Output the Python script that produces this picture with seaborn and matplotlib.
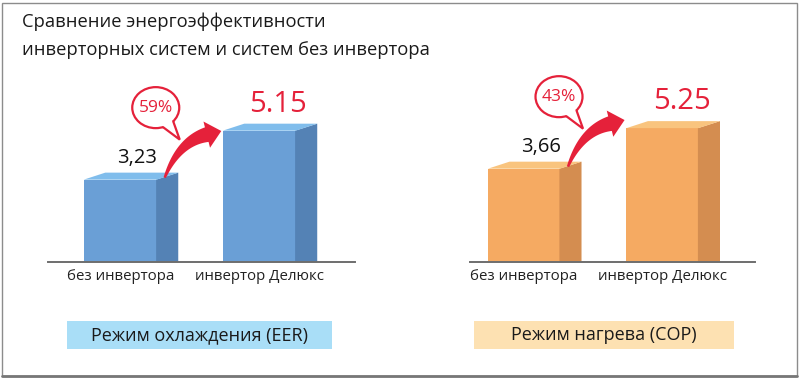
import numpy as np
import pandas as pd
import matplotlib
matplotlib.use("Agg")
import matplotlib.pyplot as plt
import seaborn as sns
from matplotlib.patches import Polygon, Ellipse, Rectangle
from matplotlib.lines import Line2D
from matplotlib.transforms import IdentityTransform

# ---------------- data ----------------
categories = ["без инвертора", "инвертор Делюкс"]
cooling_values = [3.23, 5.15]
heating_values = [3.66, 5.25]
cooling_labels = ["3,23", "5.15"]
heating_labels = ["3,66", "5.25"]
gains = ["59%", "43%"]
mode_titles = ["Режим охлаждения (EER)", "Режим нагрева (COP)"]
title_lines = ["Сравнение энергоэффективности",
               "инверторных систем и систем без инвертора"]

# ---------------- style ----------------
sns.set_theme(style="white")
plt.rcParams['font.family'] = ['Open Sans', 'DejaVu Sans']

W, H = 800, 380
RED = "#e5213a"
fig = plt.figure(figsize=(W / 100, H / 100), dpi=100)
fig.patch.set_facecolor("white")
ID = IdentityTransform()

panels = [
    dict(values=cooling_values, labels=cooling_labels, gain=gains[0], title=mode_titles[0],
         x0=48, x1=355, xlim=(-0.52, 1.689), width=0.525,
         front="#6a9fd6", side="#5482b5", top="#80bdec",
         box=(67, 332), boxcolor="#a9def7"),
    dict(values=heating_values, labels=heating_labels, gain=gains[1], title=mode_titles[1],
         x0=470, x1=755, xlim=(-0.39, 1.668), width=0.52,
         front="#f5aa62", side="#d48d50", top="#f9c47e",
         box=(474, 734), boxcolor="#fde1b2"),
]

base_y = 262      # image pixel of baseline
top_y = 58
YMAX = 8.0


def curved_arrow(A):
    ax_, ay_ = A

    def P(dx, dy):
        return np.array([ax_ + dx, ay_ - dy], dtype=float)

    S, C, E = P(8, -2), P(22, -38), P(50, -45)
    t = np.linspace(0, 1, 50)[:, None]
    B = (1 - t) ** 2 * S + 2 * (1 - t) * t * C + t ** 2 * E
    D = 2 * (1 - t) * (C - S) + 2 * t * (E - C)
    D /= np.linalg.norm(D, axis=1)[:, None]
    N = np.column_stack([-D[:, 1], D[:, 0]])
    w = 1.2 + 6.3 * t
    left = B + N * w
    right = B - N * w
    d_end, n_end = D[-1], N[-1]
    T = E + d_end * 15
    head = np.array([E + n_end * 13.5, T, E - n_end * 13.5])
    pts = np.vstack([left, head, right[::-1]])
    fig.add_artist(Polygon(pts, closed=True, transform=ID, fc=RED, ec="none", zorder=5))


def bubble(A, text):
    ax_, ay_ = A
    cx, cy = ax_ - 1, ay_ + 72
    rx, ry = 23.5, 20.5
    e = Ellipse((cx, cy), 2 * rx, 2 * ry, transform=ID, fc="white", ec=RED, lw=1.6, zorder=6)
    fig.add_artist(e)
    a1, a2 = np.deg2rad(-72), np.deg2rad(-42)
    b1 = np.array([cx + rx * np.cos(a1), cy + ry * np.sin(a1)])
    b2 = np.array([cx + rx * np.cos(a2), cy + ry * np.sin(a2)])
    tip = np.array([cx + 24, cy - 32])
    inner1 = b1 + (np.array([cx, cy]) - b1) * 0.12
    inner2 = b2 + (np.array([cx, cy]) - b2) * 0.12
    fig.add_artist(Polygon([inner1, b1, tip, b2, inner2], closed=True, transform=ID,
                           fc="white", ec="none", zorder=7))
    fig.add_artist(Line2D([b1[0], tip[0], b2[0]], [b1[1], tip[1], b2[1]], transform=ID,
                          color=RED, lw=1.6, zorder=8, solid_joinstyle="miter"))
    fig.text(cx / W, cy / H, text, ha="center", va="center", color=RED, fontsize=12.5, zorder=9)


for p in panels:
    ax = fig.add_axes([p["x0"] / W, (H - base_y) / H, (p["x1"] - p["x0"]) / W, (base_y - top_y) / H])
    df = pd.DataFrame({"cat": categories, "val": p["values"]})
    sns.barplot(data=df, x="cat", y="val", color=p["front"], saturation=1, width=p["width"],
                edgecolor="none", linewidth=0, ax=ax, zorder=3)
    ax.set_xlim(*p["xlim"])
    ax.set_ylim(0, YMAX)
    ax.set_xlabel("")
    ax.set_ylabel("")
    ax.set_yticks([])
    ax.tick_params(axis="x", length=0, pad=5, labelsize=10.8, colors="#222222")
    for s in ["left", "right", "top"]:
        ax.spines[s].set_visible(False)
    ax.spines["bottom"].set_color("#6e6e6e")
    ax.spines["bottom"].set_linewidth(1.4)
    ax.spines["bottom"].set_zorder(10)
    ax.patch.set_alpha(0)

    ppx = (p["x1"] - p["x0"]) / (p["xlim"][1] - p["xlim"][0])
    ppy = (base_y - top_y) / YMAX
    dx = 21.5 / ppx
    dy = 7.0 / ppy
    seam = 0.6 / ppx

    bars = list(ax.patches)
    for i, bar in enumerate(bars):
        x, w, h = bar.get_x(), bar.get_width(), bar.get_height()
        ax.add_patch(Polygon([(x + w - seam, 0), (x + w + dx, 0), (x + w + dx, h + dy), (x + w - seam, h)],
                             closed=True, fc=p["side"], ec="none", zorder=3, clip_on=False))
        ax.add_patch(Polygon([(x, h), (x + dx, h + dy), (x + w + dx, h + dy), (x + w, h)],
                             closed=True, fc=p["top"], ec="none", zorder=3, clip_on=False))
        if i == 0:
            ax.annotate(p["labels"][i], xy=(x + w / 2, h), xytext=(17, 17), textcoords="offset pixels",
                        ha="center", va="baseline", fontsize=14.5, color="#111111", zorder=6)
        else:
            ax.annotate(p["labels"][i], xy=(x + w / 2, h), xytext=(19, 19), textcoords="offset pixels",
                        ha="center", va="baseline", fontsize=21, color=RED, zorder=6)

    b0 = bars[0]
    A = ax.transData.transform((b0.get_x() + b0.get_width(), b0.get_height()))
    curved_arrow(A)
    bubble(A, p["gain"])

    # mode box
    bx0, bx1 = p["box"]
    fig.add_artist(Rectangle((bx0, H - 349), bx1 - bx0, 28, transform=ID,
                             fc=p["boxcolor"], ec="none", zorder=1))
    fig.text((bx0 + bx1) / 2 / W, (H - 335) / H, p["title"], ha="center", va="center",
             fontsize=13, color="#1a1a1a", zorder=2)

# title
fig.text(22 / W, (H - 27) / H, title_lines[0], ha="left", va="baseline", fontsize=13.2, color="#1a1a1a")
fig.text(22 / W, (H - 55) / H, title_lines[1], ha="left", va="baseline", fontsize=13.2, color="#1a1a1a")

# frame
fig.add_artist(Rectangle((2, H - 376), 795, 373, transform=ID, fc="none", ec="#8c8c8c", lw=1.0, zorder=0))
fig.add_artist(Line2D([2, 797], [H - 376, H - 376], transform=ID, color="#777777", lw=2.0))

fig.savefig("out.png", dpi=100)
